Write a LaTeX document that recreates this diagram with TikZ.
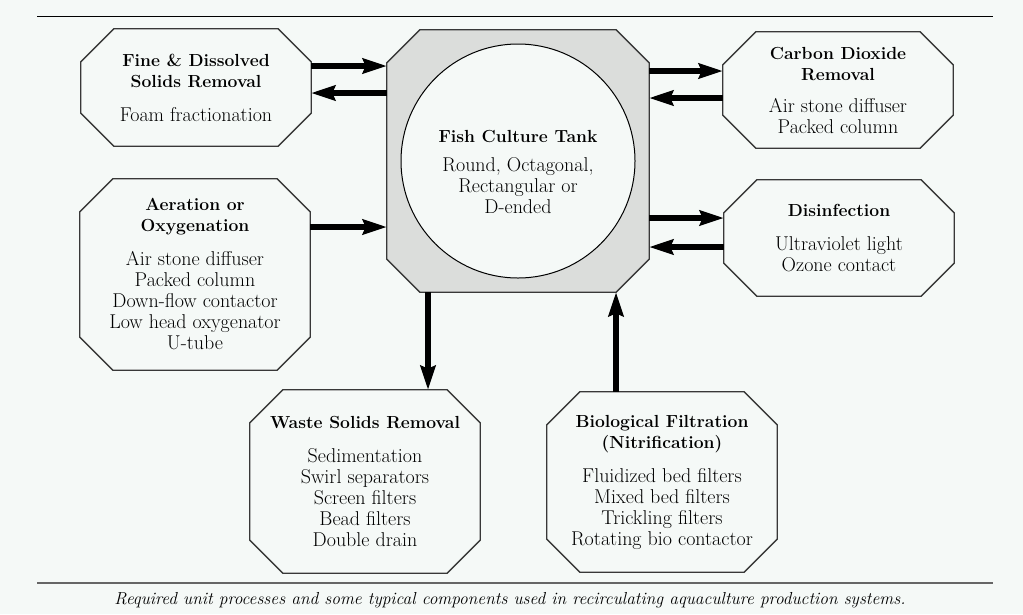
\documentclass[tikz,border=0pt]{standalone}
\usetikzlibrary{arrows.meta,backgrounds}
\definecolor{paper}{HTML}{F5F9F7}
\definecolor{tankgray}{HTML}{DBDDDB}
\definecolor{rim}{HTML}{383838}
\newcommand{\unitoutline}[2][fill=paper]{\draw[draw=rim,line width=1.3pt,#1] ([xshift=33pt]#2.north west) -- ([xshift=-33pt]#2.north east) -- ([yshift=-33pt]#2.north east) -- ([yshift=33pt]#2.south east) -- ([xshift=-33pt]#2.south east) -- ([xshift=33pt]#2.south west) -- ([yshift=33pt]#2.south west) -- ([yshift=-33pt]#2.north west) -- cycle;}
\newcommand{\headfont}{\fontsize{17.5}{21}\selectfont\bfseries}
\begin{document}
\begin{tikzpicture}[x=1pt,y=-1pt,
>={Stealth[length=24pt,width=15pt,inset=3pt]},
unitbox/.style={rectangle,minimum width=230pt,inner sep=0pt,align=center,font=\fontsize{20}{21}\selectfont},
tankbox/.style={unitbox,minimum width=262pt,minimum height=262pt},
tankwell/.style={circle,draw=black,fill=paper,line width=1pt,minimum size=234pt,inner sep=0pt},
pipe/.style={line width=6pt}]

\useasboundingbox (0,0) rectangle (1023,614);
\draw[line width=1pt] (37,16) -- (993,16);
\draw[line width=2pt,gray!80!black] (37,583) -- (993,583);

\draw (518,161) node[tankbox] (tank) {};
\draw (tank.center) node[tankwell] (well) {};
\draw (518,172) node[unitbox,minimum width=0pt] (tanklabel) {{\headfont Fish Culture Tank}\\[8pt]Round, Octagonal,\\Rectangular or\\D-ended};

\draw (196,87.5) node[unitbox,minimum height=117pt] (fine) {{\headfont Fine \& Dissolved}\\{\headfont Solids Removal}\\[13pt]Foam fractionation};
\draw (195,274.5) node[unitbox,minimum height=191pt] (aer) {{\headfont Aeration or}\\{\headfont Oxygenation}\\[13pt]Air stone diffuser\\Packed column\\Down-flow contactor\\Low head oxygenator\\U-tube};
\draw (838,90) node[unitbox,minimum height=116pt] (co2) {{\headfont Carbon Dioxide}\\{\headfont Removal}\\[11pt]Air stone diffuser\\Packed column};
\draw (839,238) node[unitbox,minimum height=116pt] (disinf) {{\headfont Disinfection}\\[13pt]Ultraviolet light\\Ozone contact};
\draw (365,481.5) node[unitbox,minimum height=183pt] (waste) {{\headfont Waste Solids Removal}\\[13pt]Sedimentation\\Swirl separators\\Screen filters\\Bead filters\\Double drain};
\draw (662,482) node[unitbox,minimum height=180pt] (bio) {{\headfont Biological Filtration}\\{\headfont (Nitrification)}\\[13pt]Fluidized bed filters\\Mixed bed filters\\Trickling filters\\Rotating bio contactor};

\begin{scope}[on background layer]
\fill[paper] (0,0) rectangle (1023,614);
\unitoutline[fill=tankgray]{tank}
\unitoutline{fine}
\unitoutline{aer}
\unitoutline{co2}
\unitoutline{disinf}
\unitoutline{waste}
\unitoutline{bio}
\end{scope}

\draw[->,pipe] (fine.east |- 0,66) -- (tank.west |- 0,66);
\draw[->,pipe] (tank.west |- 0,93) -- (fine.east |- 0,93);
\draw[->,pipe] (aer.east |- 0,227) -- (tank.west |- 0,227);
\draw[->,pipe] (tank.east |- 0,71) -- (co2.west |- 0,71);
\draw[->,pipe] (co2.west |- 0,98) -- (tank.east |- 0,98);
\draw[->,pipe] (tank.east |- 0,218) -- (disinf.west |- 0,218);
\draw[->,pipe] (disinf.west |- 0,247) -- (tank.east |- 0,247);
\draw[->,pipe] (tank.south -| 428,0) -- (waste.north -| 428,0);
\draw[->,pipe] (bio.north -| 616,0) -- (tank.south -| 616,0);

\draw (510,600) node[inner sep=0pt,font=\fontsize{17.4}{20}\selectfont\itshape] (caption) {Required unit processes and some typical components used in recirculating aquaculture production systems.};

\end{tikzpicture}
\end{document}
